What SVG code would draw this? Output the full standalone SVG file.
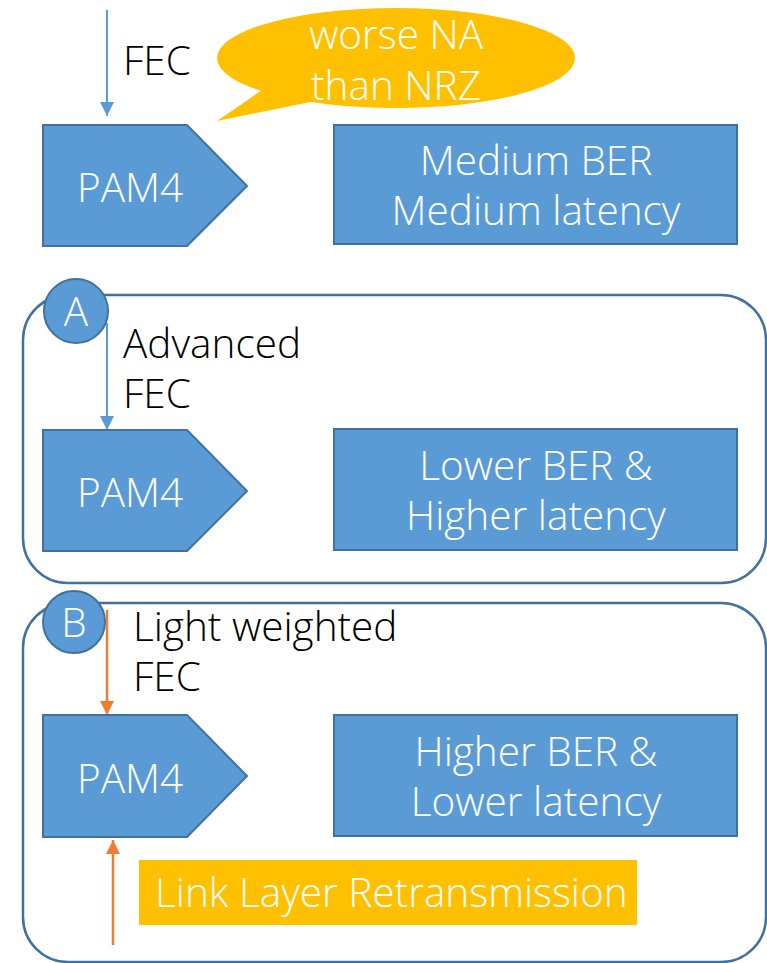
<svg xmlns="http://www.w3.org/2000/svg" width="767" height="963" viewBox="0 0 767 963">
<style>
text{font-family:"Open Sans","Noto Sans",sans-serif;font-weight:300;font-size:40.5px}
.w{fill:#fff}
.k{fill:#000}
.mid{text-anchor:middle}
.box{fill:#5B9BD5;stroke:#41719C;stroke-width:2}
.frame{fill:none;stroke:#41719C;stroke-width:2.5}
.blue{stroke:#5B9BD5;stroke-width:2;fill:none}
.orange{stroke:#ED7D31;stroke-width:2.5;fill:none}
</style>
<defs>
<marker id="ao" markerWidth="14" markerHeight="14" refX="14" refY="7" orient="auto" markerUnits="userSpaceOnUse" viewBox="0 0 14 14"><path d="M0,0 L14,7 L0,14 Z" fill="#ED7D31"/></marker>
<marker id="ab2" markerWidth="14" markerHeight="14" refX="14" refY="7" orient="auto" markerUnits="userSpaceOnUse" viewBox="0 0 14 14"><path d="M0,0 L14,7 L0,14 Z" fill="#5B9BD5"/></marker>
</defs>

<g id="groupA-frame"><rect class="frame" x="23" y="295" width="743" height="288" rx="45"/></g>
<g id="groupB-frame"><rect class="frame" x="23" y="603" width="743" height="359" rx="45"/></g>

<g id="connectors">
<line class="blue" x1="107" y1="10" x2="107" y2="116" marker-end="url(#ab2)"/>
<line class="blue" x1="107" y1="323" x2="107" y2="430" marker-end="url(#ab2)"/>
<line class="orange" x1="107" y1="610" x2="107" y2="715" marker-end="url(#ao)"/>
<line class="orange" x1="113" y1="945" x2="113" y2="840" marker-end="url(#ao)"/>
</g>

<g id="label-fec1"><text class="k" x="123" y="75">FEC</text></g>

<g id="bubble">
<ellipse cx="396" cy="58" rx="179" ry="50" fill="#FFC000"/>
<path d="M217,121 L265,88 L320,100 Z" fill="#FFC000"/>
<text class="w mid" x="396" y="49">worse NA</text>
<text class="w mid" x="396" y="100">than NRZ</text>
</g>

<g id="pam4-1">
<path class="box" d="M43,125 L187,125 L247,186 L187,246 L43,246 Z"/>
<text class="w mid" x="130" y="202">PAM4</text>
</g>
<g id="medium">
<rect class="box" x="334" y="125" width="403" height="119"/>
<text class="w mid" x="536" y="175">Medium BER</text>
<text class="w mid" x="536" y="225">Medium latency</text>
</g>

<g id="circleA">
<circle class="box" cx="76" cy="311" r="32"/>
<text class="w mid" x="76" y="326">A</text>
</g>
<g id="label-adv">
<text class="k" x="123" y="358">Advanced</text>
<text class="k" x="123" y="408">FEC</text>
</g>
<g id="pam4-2">
<path class="box" d="M43,430 L187,430 L247,491 L187,551 L43,551 Z"/>
<text class="w mid" x="130" y="507">PAM4</text>
</g>
<g id="lower">
<rect class="box" x="334" y="429" width="403" height="121"/>
<text class="w mid" x="536" y="480">Lower BER &amp;</text>
<text class="w mid" x="536" y="530">Higher latency</text>
</g>

<g id="circleB">
<circle class="box" cx="74" cy="622" r="31"/>
<text class="w mid" x="74" y="637">B</text>
</g>
<g id="label-light">
<text class="k" x="133" y="641">Light weighted</text>
<text class="k" x="133" y="691">FEC</text>
</g>
<g id="pam4-3">
<path class="box" d="M43,715 L187,715 L247,776 L187,837 L43,837 Z"/>
<text class="w mid" x="130" y="793">PAM4</text>
</g>
<g id="higher">
<rect class="box" x="334" y="715" width="403" height="121"/>
<text class="w mid" x="536" y="766">Higher BER &amp;</text>
<text class="w mid" x="536" y="816">Lower latency</text>
</g>
<g id="llr">
<rect x="139" y="860" width="498" height="65" fill="#FFC000"/>
<text class="w" x="155" y="907">Link Layer Retransmission</text>
</g>
</svg>
